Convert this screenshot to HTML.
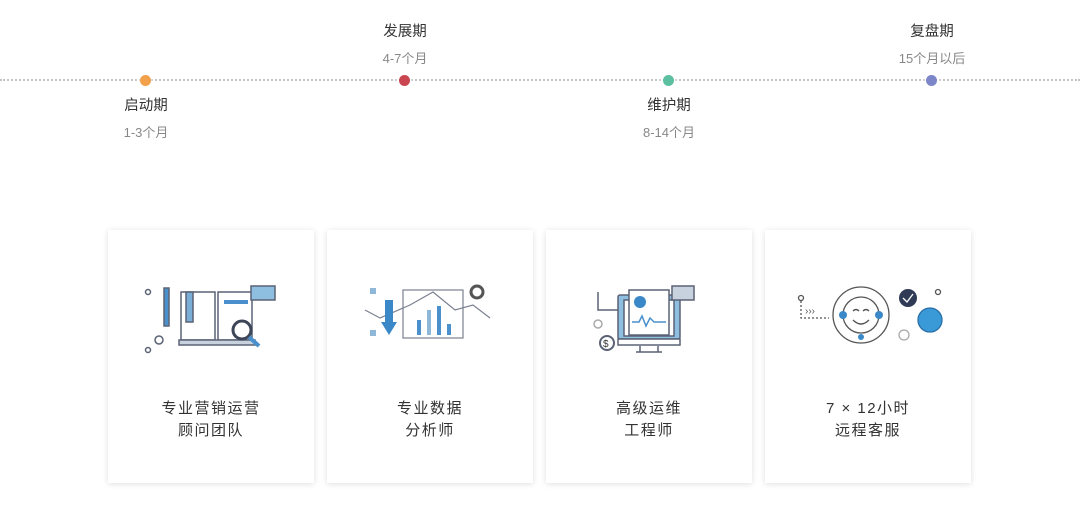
<!DOCTYPE html>
<html><head><meta charset="utf-8"><style>
body{margin:0;width:1080px;height:520px;background:#fff;position:relative;overflow:hidden;font-family:"Liberation Sans","Noto Sans CJK SC",sans-serif}
.line{position:absolute;left:0;top:79px;width:1080px;height:0;border-top:2px dotted #c4c4c8}
.dot{position:absolute;width:11px;height:11px;border-radius:50%;top:75px;box-shadow:0 0 4px 2px rgba(255,255,255,.6)}
.t{position:absolute;width:120px;text-align:center;font-size:14.5px;color:#333}
.s{position:absolute;width:120px;text-align:center;font-size:13px;color:#888}
.card{position:absolute;top:230px;width:206px;height:253px;background:#fff;box-shadow:0 1px 6px rgba(0,0,0,.13)}
.card .lbl{position:absolute;left:0;right:0;top:168px;text-align:center;font-size:15px;color:#333;line-height:22px;letter-spacing:1.5px}
.card svg{position:absolute;left:28px;top:50px}
</style></head><body>
<div class="line"></div>
<div class="dot" style="left:140px;background:#f2a04a"></div>
<div class="dot" style="left:399px;background:#c94550"></div>
<div class="dot" style="left:663px;background:#5cc0a0"></div>
<div class="dot" style="left:926px;background:#7c86c9"></div>
<div class="t" style="left:86px;top:94px">启动期</div><div class="s" style="left:86px;top:122px">1-3个月</div>
<div class="t" style="left:345px;top:20px">发展期</div><div class="s" style="left:345px;top:48px">4-7个月</div>
<div class="t" style="left:609px;top:94px">维护期</div><div class="s" style="left:609px;top:122px">8-14个月</div>
<div class="t" style="left:872px;top:20px">复盘期</div><div class="s" style="left:872px;top:48px">15个月以后</div>

<div class="card" style="left:108px">
<svg width="150" height="80" viewBox="0 0 150 80" fill="none" stroke="#5a6275" stroke-width="1.5">
<circle cx="12" cy="12" r="2.5"/><circle cx="12" cy="70" r="2.5"/><circle cx="23" cy="60" r="4"/>
<rect x="28" y="8" width="5" height="38" fill="#4a90cc"/>
<rect x="45" y="12" width="34" height="48" fill="#fff"/><rect x="82" y="12" width="34" height="48" fill="#fff"/>
<rect x="50" y="12" width="7" height="30" fill="#7aaed6"/>
<rect x="88" y="20" width="24" height="4" fill="#4a90cc" stroke="none"/>
<rect x="43" y="60" width="76" height="5" fill="#c8d2df"/>
<rect x="115" y="6" width="24" height="14" fill="#8fbfe0"/>
<circle cx="106" cy="50" r="9" stroke="#3d4558" stroke-width="3" fill="#fff"/><line x1="113" y1="57" x2="123" y2="66" stroke="#4a90cc" stroke-width="4"/>
</svg>
<div class="lbl">专业营销运营<br>顾问团队</div></div>

<div class="card" style="left:327px">
<svg width="150" height="80" viewBox="0 0 150 80" fill="none" stroke="#7a8090" stroke-width="1.2">
<rect x="48" y="10" width="60" height="48" fill="#fff"/>
<rect x="62" y="40" width="4" height="15" fill="#4a90cc" stroke="none"/><rect x="72" y="30" width="4" height="25" fill="#8fb8d8" stroke="none"/><rect x="82" y="26" width="4" height="29" fill="#4a90cc" stroke="none"/><rect x="92" y="44" width="4" height="11" fill="#4a90cc" stroke="none"/>
<polyline points="10,30 25,38 55,25 78,12 100,30 118,25 135,38"/>
<rect x="30" y="20" width="8" height="24" fill="#3a88c8" stroke="none"/><polygon points="26,42 42,42 34,55" fill="#3a88c8" stroke="none"/>
<circle cx="122" cy="12" r="6" fill="#fff" stroke="#555" stroke-width="3"/>
<rect x="15" y="8" width="6" height="6" fill="#8fb8d8" stroke="none"/><rect x="15" y="50" width="6" height="6" fill="#8fb8d8" stroke="none"/>
</svg>
<div class="lbl">专业数据<br>分析师</div></div>

<div class="card" style="left:546px">
<svg width="150" height="80" viewBox="0 0 150 80" fill="none" stroke="#5a6275" stroke-width="1.5">
<rect x="44" y="15" width="62" height="44" rx="2" fill="#8fbfe0"/>
<rect x="50" y="20" width="50" height="36" fill="#fff"/>
<rect x="55" y="10" width="40" height="45" fill="#fff"/>
<circle cx="66" cy="22" r="6" fill="#3a88c8" stroke="none"/>
<polyline points="58,42 65,42 68,36 72,46 76,38 80,42 92,42" stroke="#4a90cc"/>
<rect x="44" y="59" width="62" height="6" fill="#fff"/><line x1="66" y1="66" x2="66" y2="72"/><line x1="84" y1="66" x2="84" y2="72"/><line x1="62" y1="72" x2="88" y2="72"/>
<rect x="98" y="6" width="22" height="14" fill="#c8d2df"/>
<circle cx="33" cy="63" r="7" stroke-width="2"/><text x="29" y="67" font-size="10" fill="#333" stroke="none">$</text>
<circle cx="24" cy="44" r="4" stroke="#aaa"/>
<polyline points="24,12 24,30 44,30"/>
</svg>
<div class="lbl">高级运维<br>工程师</div></div>

<div class="card" style="left:765px">
<svg width="160" height="80" viewBox="0 0 160 80" fill="none" stroke="#555" stroke-width="1.3">
<circle cx="8" cy="18" r="2.5"/><polyline points="8,21 8,38 36,38" stroke-dasharray="2 2"/>
<text x="12" y="34" font-size="10" fill="#555" stroke="none">›››</text>
<circle cx="68" cy="35" r="28"/><circle cx="68" cy="35" r="18"/>
<circle cx="50" cy="35" r="4" fill="#3a88c8" stroke="none"/><circle cx="86" cy="35" r="4" fill="#3a88c8" stroke="none"/>
<path d="M60 31 q3 -3 6 0 M70 31 q3 -3 6 0 M60 40 q8 8 16 0"/>
<circle cx="68" cy="57" r="3" fill="#3a88c8" stroke="none"/>
<circle cx="115" cy="18" r="9" fill="#2f3a55" stroke="none"/><polyline points="110,18 114,22 120,14" stroke="#fff"/>
<circle cx="137" cy="40" r="12" fill="#3a9ad8" stroke="#2a70a8"/>
<circle cx="111" cy="55" r="5" stroke="#aaa"/><circle cx="145" cy="12" r="2.5"/>
</svg>
<div class="lbl">7 × 12小时<br>远程客服</div></div>
</body></html>
